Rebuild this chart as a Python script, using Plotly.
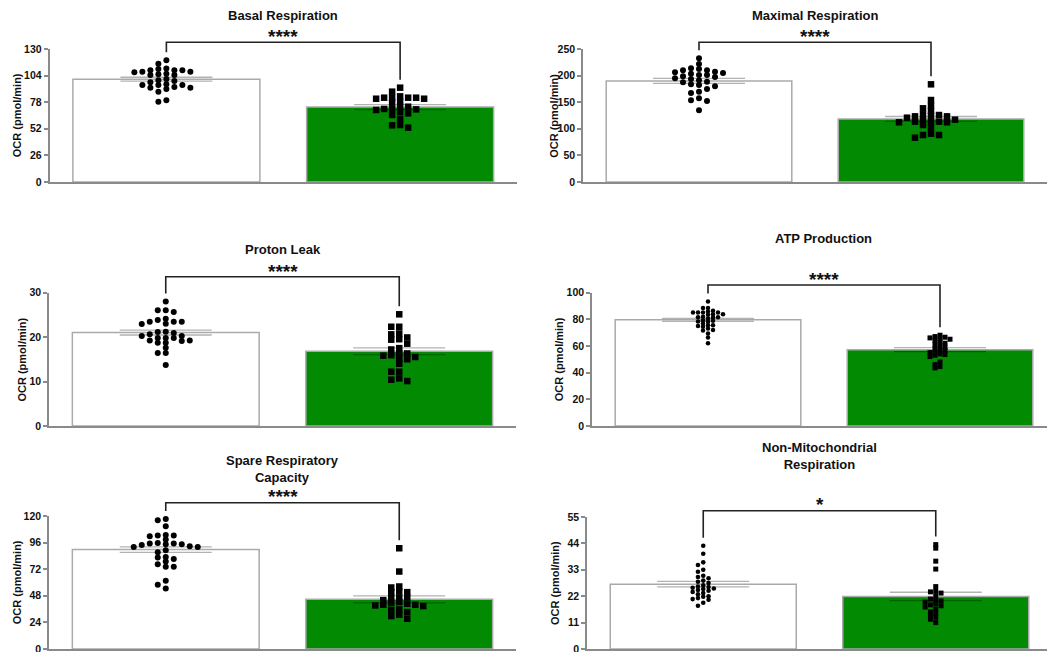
import numpy as np
import plotly.graph_objects as go

W, H = 1047, 652

# ---------------- data ----------------
titles = ["Basal Respiration", "Maximal Respiration", "Proton Leak",
          "ATP Production", "Spare Respiratory<br>Capacity",
          "Non-Mitochondrial<br>Respiration"]
significance = ["****", "****", "****", "****", "****", "*"]
y_max = [130, 250, 30, 100, 120, 55]
y_dtick = [26, 50, 10, 20, 24, 11]
y_title = "OCR (pmol/min)"

basal_ctrl = [119, 115.6, 111, 107.2, 107.8, 109.2, 104.6, 109.2, 104.6, 105.3, 100.7,
              109.2, 110.4, 105.9, 107.8, 98.7, 94.8, 94.8, 95.5, 90.9, 92.2, 88.3,
              92.2, 97.5, 92.9, 99.4, 94.8, 78.5, 79.8]
basal_trt = [92.2, 88.3, 83.7, 82.4, 82.4, 82.4, 82.4, 81.4, 81.4, 78.5, 77.5, 73.6,
             73.6, 71.4, 71.4, 70.4, 71.0, 68.1, 67.1, 65.5, 61.3, 55.4, 55.7, 53.1]

maximal_ctrl = [232.5, 222, 210, 201, 212.4, 203.6, 194.9, 187.3, 210, 201, 188.5,
                179.8, 167.3, 213.7, 206.2, 198.7, 191.2, 183.6, 169.8, 207.4, 193.6,
                182.3, 204.9, 197.4, 174.8, 157.3, 152.3, 153.6, 134.8]
maximal_trt = [183.6, 154.1, 143.4, 138.5, 123.4, 113.4, 113.4, 125.9, 117.1, 107.1,
               127.2, 112.2, 102, 120.9, 112.2, 124.6, 117.1, 133.5, 123.4, 113.4,
               90.8, 83.3, 88.3, 88.3]

proton_ctrl = [28.0, 26.0, 26.0, 25.6, 23.4, 23.4, 23.4, 23.8, 22.9, 24.1, 23.0, 21.1,
               20.2, 20.9, 21.2, 20.2, 20.6, 19.8, 19.1, 19.8, 18.7, 19.8, 18.7, 17.6,
               19.2, 19.2, 16.4, 16.4, 13.7]
proton_trt = [25.1, 22.3, 22.3, 20.6, 19.5, 20.8, 19.4, 18.5, 19.9, 17.2, 17.5, 15.9,
              16.3, 15.5, 15.8, 16.3, 15.1, 15.0, 14.0, 12.2, 12.2, 10.1, 10.7, 10.4]

atp_ctrl = [93.2, 88.3, 88.3, 86.3, 85.8, 85.0, 85.0, 85.0, 85.0, 83.8, 83.8, 83.3,
            81.8, 81.5, 81.5, 81.3, 80.5, 79.3, 78.8, 78.3, 78.0, 76.8, 75.5, 75.5,
            75.0, 74.3, 73.0, 72.0, 71.5, 69.3, 66.3, 62.0]
atp_trt = [68, 67, 66.5, 66, 65.5, 65, 64, 63, 62, 61, 60, 59, 58, 57, 56.5, 55.5, 55,
           54, 53.5, 53, 52, 48, 46, 44.5, 43.5]

spare_ctrl = [116.1, 117.3, 110.7, 102.3, 102.9, 101.7, 102.3, 98.7, 95.1, 94.5, 95.7,
              92.1, 95.1, 92.7, 93.9, 89.1, 92.1, 94.5, 87.3, 82.5, 78.9, 74.1, 81.3,
              76.5, 83.1, 74.1, 61.5, 57.9, 54.6]
spare_trt = [90.9, 69.9, 56.4, 55.5, 51.3, 51.3, 51.9, 46.5, 46.5, 46.5, 42.3, 44.1,
             40.8, 41.4, 38.7, 39.3, 39.9, 39.9, 35.1, 35.7, 33.3, 30.9, 29.7, 27.3]

nonmito_ctrl = [43, 39.7, 36.1, 35, 33, 32.2, 30.5, 30, 29.5, 28.5, 28, 27.5, 26.5, 26,
                25.8, 25.5, 25.2, 25, 24.6, 24.3, 23.8, 23.3, 22.8, 22, 21.8, 21.2,
                20.8, 20.5, 19.3, 18]
nonmito_trt = [43.5, 42, 36.6, 33.3, 26, 24, 23.8, 23.3, 22, 20.8, 20.2, 20, 19.5, 18.8,
               18.4, 18, 17.5, 16.6, 15.5, 14.9, 14, 13.2, 12.4, 11]

mean_ctrl = [100.5, 190, 21.0, 79.5, 89.7, 27.0]
mean_trt = [73.2, 118.5, 16.8, 57.2, 44.8, 21.9]
sem_ctrl = [1.9, 4.7, 0.55, 1.1, 2.5, 1.15]
sem_trt = [2.5, 4.6, 0.75, 1.5, 3.2, 1.75]

points_ctrl = [basal_ctrl, maximal_ctrl, proton_ctrl, atp_ctrl, spare_ctrl, nonmito_ctrl]
points_trt = [basal_trt, maximal_trt, proton_trt, atp_trt, spare_trt, nonmito_trt]

# ---------------- layout geometry (pixels) ----------------
dom_x = [(49.5, 517), (583, 1047), (49, 516), (592, 1047), (49, 516), (587, 1047)]
unit_x = [233.75, 232, 233.5, 232, 233.5, 232.5]
dom_y = [(49, 182), (49, 182), (292.5, 426), (292.5, 426), (516, 649), (517, 649)]
title_y = [15.7, 15.7, 249.3, 238.3, 468.7, 455.8]
star_y = [33.3, 33.3, 268.3, 276.7, 493.3, 501.7]
bracket_y = [42.3, 42.3, 276.7, 285, 502.7, 510.7]
ytitle_x = [16.7, 553.3, 22.3, 559, 16.7, 555]
swarm_step = [8, 8, 8, 5, 8, 5.3]
swarm_dy = [4.7, 4.7, 4.7, 3.3, 4.5, 3.3]
msize = [6, 6, 6, 4.5, 6, 4.6]
ssize = [6.5, 6.5, 6.5, 5, 6.5, 5]

GREEN = "#028B02"
AXIS = "#8a8a8a"
FONT = "Liberation Sans, Arial, sans-serif"


def px2py(p):
    return 1 - p / H


def swarm(vals, ppu_y, step_px, min_dy, ppu_x):
    vals = np.asarray(vals, dtype=float)
    order = np.argsort(-vals)
    placed = []  # (col, ypx)
    offs = np.zeros(len(vals))
    cand = [0]
    for n in range(1, 40):
        cand += [-n, n]
    for i in order:
        ypx = vals[i] * ppu_y
        k = 0
        for c in cand:
            if all(not (pc == c and abs(py - ypx) < min_dy) for pc, py in placed):
                k = c
                break
        placed.append((k, ypx))
        offs[i] = k * step_px / ppu_x
    return offs


fig = go.Figure()
layout = dict(width=W, height=H, margin=dict(l=0, r=0, t=0, b=0),
              paper_bgcolor="white", plot_bgcolor="white", showlegend=False,
              font=dict(family=FONT, color="#111"))
shapes, annotations = [], []

for i in range(6):
    n = "" if i == 0 else str(i + 1)
    xa, ya = "x" + n, "y" + n
    x0, x1 = dom_x[i]
    yt, yb = dom_y[i]
    r1 = -0.5 + (x1 - x0) / unit_x[i]
    ppu_y = (yb - yt) / y_max[i]

    layout["xaxis" + n] = dict(domain=[x0 / W, x1 / W], range=[-0.5, r1],
                               anchor=ya, showticklabels=False, ticks="",
                               showline=True, linecolor=AXIS, linewidth=1.5,
                               showgrid=False, zeroline=False, fixedrange=True)
    layout["yaxis" + n] = dict(domain=[px2py(yb), px2py(yt)], range=[0, y_max[i]],
                               anchor=xa, tick0=0, dtick=y_dtick[i], ticks="outside",
                               ticklen=4, tickwidth=1.5, tickcolor=AXIS,
                               showline=True, linecolor=AXIS, linewidth=1.5,
                               showgrid=False, zeroline=False, automargin=False,
                               ticklabeloverflow="allow",
                               tickfont=dict(size=10.5, family=FONT, color="#111",
                                             weight="bold"))

    fig.add_trace(go.Bar(
        x=[0, 1], y=[mean_ctrl[i], mean_trt[i]], width=0.8, xaxis=xa, yaxis=ya,
        marker=dict(color=["white", GREEN], line=dict(color="#aaaaaa", width=1.5)),
        error_y=dict(type="data", array=[sem_ctrl[i], sem_trt[i]], visible=True,
                     color="rgba(0,0,0,0.3)", thickness=1.3, width=46),
        hoverinfo="skip"))

    for g, (pts, sym, sz) in enumerate([(points_ctrl[i], "circle", msize[i]),
                                        (points_trt[i], "square", ssize[i])]):
        offs = swarm(pts, ppu_y, swarm_step[i], swarm_dy[i], unit_x[i])
        fig.add_trace(go.Scatter(
            x=g + offs, y=pts, mode="markers", xaxis=xa, yaxis=ya, cliponaxis=False,
            marker=dict(symbol=sym, size=sz, color="black", line=dict(width=0))))

    def xpx(c):
        return x0 + (c + 0.5) * unit_x[i]
    by = bracket_y[i]
    tail_l = yb - max(points_ctrl[i]) * ppu_y - 8
    tail_r = yb - max(points_trt[i]) * ppu_y - 8
    path = (f"M {xpx(0)/W},{px2py(tail_l)} L {xpx(0)/W},{px2py(by)} "
            f"L {xpx(1)/W},{px2py(by)} L {xpx(1)/W},{px2py(tail_r)}")
    shapes.append(dict(type="path", xref="paper", yref="paper", path=path,
                       line=dict(color="#222", width=1.6)))

    annotations.append(dict(text=significance[i], xref="paper", yref="paper",
                            x=xpx(0.5) / W, y=px2py(star_y[i] + 3),
                            xanchor="center", yanchor="middle", showarrow=False,
                            font=dict(size=19, family=FONT, color="#111", weight="bold")))
    annotations.append(dict(text=titles[i], xref="paper", yref="paper",
                            x=xpx(0.5) / W, y=px2py(title_y[i]),
                            xanchor="center", yanchor="middle", showarrow=False,
                            font=dict(size=13, family=FONT, color="#111", weight="bold")))
    annotations.append(dict(text=y_title, xref="paper", yref="paper",
                            x=ytitle_x[i] / W, y=px2py((yt + yb) / 2),
                            xanchor="center", yanchor="middle", showarrow=False,
                            textangle=-90,
                            font=dict(size=11, family=FONT, color="#111", weight="bold")))

layout["shapes"] = shapes
layout["annotations"] = annotations
fig.update_layout(**layout)
fig.write_html("out.html", config={"displayModeBar": False},
               post_script="document.body.style.margin='0';document.body.style.overflow='hidden';")
